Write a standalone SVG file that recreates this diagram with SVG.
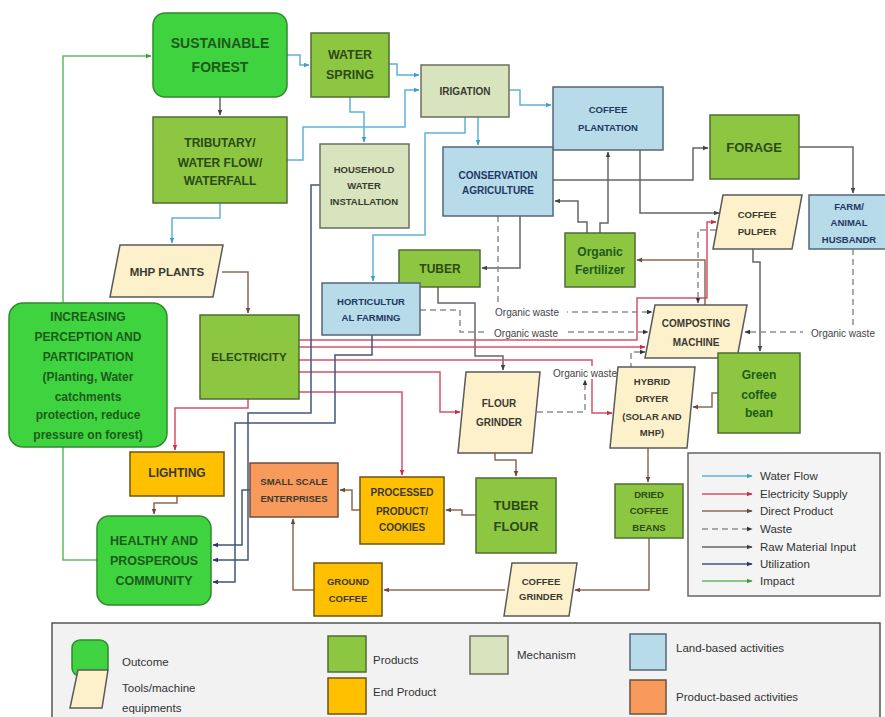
<svg xmlns="http://www.w3.org/2000/svg" width="885" height="717" viewBox="0 0 885 717">
<style>
text{font-family:"Liberation Sans",Arial,sans-serif;}
.t{text-anchor:middle;font-weight:bold;}
.out{fill:#3fd43f;stroke:#2e8b2e;stroke-width:1.5;}
.prd{fill:#8dc641;stroke:#4f6e33;stroke-width:1.5;}
.mec{fill:#d8e4bd;stroke:#6d6d60;stroke-width:1.5;}
.lnd{fill:#b7dbe8;stroke:#56677a;stroke-width:1.5;}
.tool{fill:#fdf1cc;stroke:#5a5a5a;stroke-width:1.5;}
.end{fill:#ffc000;stroke:#6e5410;stroke-width:1.5;}
.pba{fill:#f79a5c;stroke:#6e5040;stroke-width:1.5;}
.tg{fill:#1d5a1d;}
.tp{fill:#2c4a16;}
.td{fill:#3a3a30;}
.tb{fill:#1f3864;}
.c{fill:none;stroke-width:1.5;}
.w{stroke:#5fb3d6;marker-end:url(#mW);}
.e{stroke:#d9506a;marker-end:url(#mE);}
.d{stroke:#8d6a55;marker-end:url(#mD);}
.r{stroke:#666;marker-end:url(#mR);}
.u{stroke:#44557a;marker-end:url(#mU);}
.i{stroke:#63b865;marker-end:url(#mI);}
.x{stroke:#8e8e8e;stroke-dasharray:6 4;marker-end:url(#mX);}
.lbl{font-size:10px;fill:#444;text-anchor:middle;}
.lg{font-size:11.5px;fill:#333;}
</style>
<defs>
<marker id="mW" viewBox="0 0 10 10" refX="9" refY="5" markerWidth="6" markerHeight="6" markerUnits="userSpaceOnUse" orient="auto"><path d="M0,1L10,5L0,9z" fill="#3f9fc6"/></marker>
<marker id="mE" viewBox="0 0 10 10" refX="9" refY="5" markerWidth="6" markerHeight="6" markerUnits="userSpaceOnUse" orient="auto"><path d="M0,1L10,5L0,9z" fill="#c8304a"/></marker>
<marker id="mD" viewBox="0 0 10 10" refX="9" refY="5" markerWidth="6" markerHeight="6" markerUnits="userSpaceOnUse" orient="auto"><path d="M0,1L10,5L0,9z" fill="#6d4a35"/></marker>
<marker id="mR" viewBox="0 0 10 10" refX="9" refY="5" markerWidth="6" markerHeight="6" markerUnits="userSpaceOnUse" orient="auto"><path d="M0,1L10,5L0,9z" fill="#444"/></marker>
<marker id="mU" viewBox="0 0 10 10" refX="9" refY="5" markerWidth="6" markerHeight="6" markerUnits="userSpaceOnUse" orient="auto"><path d="M0,1L10,5L0,9z" fill="#2a3a60"/></marker>
<marker id="mI" viewBox="0 0 10 10" refX="9" refY="5" markerWidth="6" markerHeight="6" markerUnits="userSpaceOnUse" orient="auto"><path d="M0,1L10,5L0,9z" fill="#3f9a42"/></marker>
<marker id="mX" viewBox="0 0 10 10" refX="9" refY="5" markerWidth="6" markerHeight="6" markerUnits="userSpaceOnUse" orient="auto"><path d="M0,1L10,5L0,9z" fill="#333"/></marker>
</defs>
<rect x="0" y="0" width="885" height="717" fill="#ffffff"/>

<g id="connectors">
<!-- impact -->
<polyline class="c i" points="97,560 63,560 63,56 151,56"/>
<!-- water -->
<polyline class="c w" points="287,55 300,55 300,65 309,65"/>
<polyline class="c w" points="389,64 397,64 397,75 419,75"/>
<polyline class="c w" points="287,160 303,160 303,127 405,127 405,90 419,90"/>
<polyline class="c w" points="350,97 350,112 364,112 364,142"/>
<polyline class="c w" points="220,203 220,218 172,218 172,243"/>
<polyline class="c w" points="478,117 478,145"/>
<polyline class="c w" points="509,90 520,90 520,105 551,105"/>
<polyline class="c w" points="465,117 465,133 425,133 425,235 373,235 373,281"/>
<!-- raw -->
<polyline class="c r" points="220,97 220,115"/>
<polyline class="c r" points="520,216 520,268 482,268"/>
<polyline class="c r" points="438,287 438,303 475,303 475,356 503,356 503,370"/>
<polyline class="c r" points="640,150 640,213 719,213"/>
<polyline class="c r" points="553,180 693,180 693,148 708,148"/>
<polyline class="c r" points="799,147 853,147 853,193"/>
<polyline class="c r" points="600,233 600,223 608,223 608,152"/>
<polyline class="c r" points="587,233 587,222 578,222 578,201 555,201"/>
<polyline class="c r" points="753,249 753,262 760,262 760,351"/>
<!-- electricity -->
<polyline class="c e" points="299,340 637,340 637,298 707,298 707,222 716,222"/>
<polyline class="c e" points="299,347 645,347"/>
<polyline class="c e" points="299,360 592,360 592,413 612,413"/>
<polyline class="c e" points="299,372 440,372 440,412 460,412"/>
<polyline class="c e" points="299,392 402,392 402,475"/>
<polyline class="c e" points="248,399 248,408 175,408 175,450"/>
<!-- direct product -->
<polyline class="c d" points="222,272 248,272 248,313"/>
<polyline class="c d" points="495,453 495,460 516,460 516,476"/>
<polyline class="c d" points="648,448 648,482"/>
<polyline class="c d" points="476,515 462,515 462,510 446,510"/>
<polyline class="c d" points="505,590 384,590"/>
<polyline class="c d" points="649,538 649,590 575,590"/>
<polyline class="c d" points="360,510 352,510 352,490 340,490"/>
<polyline class="c d" points="314,590 293,590 293,519"/>
<polyline class="c d" points="705,305 705,260 637,260"/>
<polyline class="c d" points="718,393 712,393 712,407 693,407"/>
<polyline class="c d" points="177,496 177,503 154,503 154,514"/>
<!-- utilization -->
<polyline class="c u" points="250,490 242,490 242,545 213,545"/>
<polyline class="c u" points="320,185 311,185 311,413 248,413 248,560 213,560"/>
<polyline class="c u" points="372,335 372,355 335,355 335,423 235,423 235,582 213,582"/>
<!-- waste -->
<polyline class="c x" points="420,310 460,310 460,332 648,332"/>
<polyline class="c x" points="498,216 498,312 652,312"/>
<polyline class="c x" points="537,412 585,412 585,380"/>
<polyline class="c x" points="624,372 631,372 631,352 645,352"/>
<polyline class="c x" points="716,230 698,230 698,303"/>
<polyline class="c x" points="853,249 853,332 745,332"/>
<rect x="487" y="305" width="80" height="13" fill="#fff"/>
<text class="lbl" x="527" y="316">Organic waste</text>
<rect x="486" y="326" width="80" height="13" fill="#fff"/>
<text class="lbl" x="526" y="337">Organic waste</text>
<rect x="547" y="366" width="77" height="13" fill="#fff"/>
<text class="lbl" x="585" y="377">Organic waste</text>
<rect x="803" y="326" width="82" height="13" fill="#fff"/>
<text class="lbl" x="843" y="337">Organic waste</text>
</g>

<g id="sustainable-forest"><rect class="out" x="153" y="13" width="134" height="84" rx="12"/><text class="t tg" font-size="14"><tspan x="220" y="48">SUSTAINABLE</tspan><tspan x="220" y="72">FOREST</tspan></text></g>
<g id="water-spring"><rect class="prd" x="311" y="33" width="78" height="64"/><text class="t tp" font-size="12.5"><tspan x="350" y="59">WATER</tspan><tspan x="350" y="79">SPRING</tspan></text></g>
<g id="irigation"><rect class="mec" x="421" y="65" width="88" height="52"/><text class="t td" font-size="10" x="465" y="95">IRIGATION</text></g>
<g id="coffee-plantation"><rect class="lnd" x="553" y="87" width="110" height="63"/><text class="t tb" font-size="9.5"><tspan x="608" y="113">COFFEE</tspan><tspan x="608" y="131">PLANTATION</tspan></text></g>
<g id="forage"><rect class="prd" x="710" y="115" width="89" height="64"/><text class="t tp" font-size="13" x="754" y="152">FORAGE</text></g>
<g id="tributary"><rect class="prd" x="153" y="117" width="134" height="86"/><text class="t tp" font-size="12"><tspan x="220" y="147">TRIBUTARY/</tspan><tspan x="220" y="167">WATER FLOW/</tspan><tspan x="220" y="185">WATERFALL</tspan></text></g>
<g id="household"><rect class="mec" x="320" y="144" width="89" height="84"/><text class="t td" font-size="9.5"><tspan x="364" y="173">HOUSEHOLD</tspan><tspan x="364" y="189">WATER</tspan><tspan x="364" y="205">INSTALLATION</tspan></text></g>
<g id="conservation"><rect class="lnd" x="443" y="147" width="110" height="69"/><text class="t tb" font-size="10"><tspan x="498" y="179">CONSERVATION</tspan><tspan x="498" y="194">AGRICULTURE</tspan></text></g>
<g id="coffee-pulper"><polygon class="tool" points="723,195 802,195 792,249 713,249"/><text class="t td" font-size="9.5"><tspan x="757" y="218">COFFEE</tspan><tspan x="757" y="235">PULPER</tspan></text></g>
<g id="farm"><rect class="lnd" x="809" y="195" width="84" height="54"/><text class="t tb" font-size="9.5"><tspan x="849" y="210">FARM/</tspan><tspan x="849" y="226">ANIMAL</tspan><tspan x="849" y="243">HUSBANDR</tspan></text></g>
<g id="organic-fertilizer"><rect class="prd" x="565" y="233" width="70" height="54"/><text class="t tg" font-size="12"><tspan x="600" y="256">Organic</tspan><tspan x="600" y="274">Fertilizer</tspan></text></g>
<g id="mhp-plants"><polygon class="tool" points="120,245 223,245 213,297 110,297"/><text class="t td" font-size="11.5" x="167" y="276">MHP PLANTS</text></g>
<g id="tuber"><rect class="prd" x="399" y="250" width="81" height="37"/><text class="t tp" font-size="12" x="440" y="273">TUBER</text></g>
<g id="horticultural"><rect class="lnd" x="322" y="283" width="98" height="52"/><text class="t tb" font-size="9.5"><tspan x="371" y="305">HORTICULTUR</tspan><tspan x="371" y="321">AL FARMING</tspan></text></g>
<g id="increasing"><rect class="out" x="9" y="303" width="158" height="144" rx="14"/><text class="t tg" font-size="12"><tspan x="88" y="321">INCREASING</tspan><tspan x="88" y="341">PERCEPTION AND</tspan><tspan x="88" y="361">PARTICIPATION</tspan><tspan x="88" y="381">(Planting, Water</tspan><tspan x="88" y="401">catchments</tspan><tspan x="88" y="419">protection, reduce</tspan><tspan x="88" y="439">pressure on forest)</tspan></text></g>
<g id="electricity"><rect class="prd" x="200" y="315" width="99" height="84"/><text class="t tp" font-size="11.5" x="249" y="361">ELECTRICITY</text></g>
<g id="composting"><polygon class="tool" points="655,305 747,305 737,358 645,358"/><text class="t td" font-size="10"><tspan x="696" y="327">COMPOSTING</tspan><tspan x="696" y="346">MACHINE</tspan></text></g>
<g id="green-coffee-bean"><rect class="prd" x="718" y="353" width="82" height="80"/><text class="t tg" font-size="12"><tspan x="759" y="379">Green</tspan><tspan x="759" y="399">coffee</tspan><tspan x="759" y="417">bean</tspan></text></g>
<g id="flour-grinder"><polygon class="tool" points="466,372 540,372 532,453 458,453"/><text class="t td" font-size="10"><tspan x="499" y="407">FLOUR</tspan><tspan x="499" y="426">GRINDER</tspan></text></g>
<g id="hybrid-dryer"><polygon class="tool" points="618,367 695,367 687,448 610,448"/><text class="t td" font-size="9.5"><tspan x="652" y="385">HYBRID</tspan><tspan x="652" y="402">DRYER</tspan><tspan x="652" y="420">(SOLAR AND</tspan><tspan x="652" y="436">MHP)</tspan></text></g>
<g id="lighting"><rect class="end" x="130" y="452" width="94" height="44"/><text class="t td" font-size="12" x="177" y="477">LIGHTING</text></g>
<g id="small-scale"><rect class="pba" x="250" y="463" width="88" height="54"/><text class="t td" font-size="9.5"><tspan x="294" y="485">SMALL SCALE</tspan><tspan x="294" y="502">ENTERPRISES</tspan></text></g>
<g id="processed"><rect class="end" x="360" y="477" width="84" height="67"/><text class="t td" font-size="10"><tspan x="402" y="496">PROCESSED</tspan><tspan x="402" y="515">PRODUCT/</tspan><tspan x="402" y="531">COOKIES</tspan></text></g>
<g id="tuber-flour"><rect class="prd" x="476" y="478" width="80" height="75"/><text class="t tp" font-size="13" font-weight="normal"><tspan x="516" y="510">TUBER</tspan><tspan x="516" y="531">FLOUR</tspan></text></g>
<g id="dried-coffee"><rect class="prd" x="615" y="484" width="68" height="54"/><text class="t tp" font-size="9.5"><tspan x="649" y="498">DRIED</tspan><tspan x="649" y="514">COFFEE</tspan><tspan x="649" y="531">BEANS</tspan></text></g>
<g id="healthy"><rect class="out" x="97" y="516" width="114" height="89" rx="12"/><text class="t tg" font-size="12.5"><tspan x="154" y="545">HEALTHY AND</tspan><tspan x="154" y="565">PROSPEROUS</tspan><tspan x="154" y="585">COMMUNITY</tspan></text></g>
<g id="ground-coffee"><rect class="end" x="314" y="563" width="68" height="53"/><text class="t td" font-size="9.5"><tspan x="348" y="585">GROUND</tspan><tspan x="348" y="602">COFFEE</tspan></text></g>
<g id="coffee-grinder"><polygon class="tool" points="512,563 577,563 569,616 504,616"/><text class="t td" font-size="9.5"><tspan x="541" y="585">COFFEE</tspan><tspan x="541" y="600">GRINDER</tspan></text></g>

<g id="line-legend">
<rect x="688" y="453" width="192" height="143" fill="#f4f4f4" stroke="#666" stroke-width="1.5"/>
<line class="c w" x1="702" y1="476" x2="752" y2="476"/><text class="lg" x="760" y="480">Water Flow</text>
<line class="c e" x1="702" y1="494" x2="752" y2="494"/><text class="lg" x="760" y="498">Electricity Supply</text>
<line class="c d" x1="702" y1="511" x2="752" y2="511"/><text class="lg" x="760" y="515">Direct Product</text>
<line class="c x" x1="702" y1="529" x2="752" y2="529"/><text class="lg" x="760" y="533">Waste</text>
<line class="c r" x1="702" y1="547" x2="752" y2="547"/><text class="lg" x="760" y="551">Raw Material Input</text>
<line class="c u" x1="702" y1="564" x2="752" y2="564"/><text class="lg" x="760" y="568">Utilization</text>
<line class="c i" x1="702" y1="581" x2="752" y2="581"/><text class="lg" x="760" y="585">Impact</text>
</g>

<g id="node-legend">
<rect x="52" y="623" width="828" height="100" fill="#f2f2f2" stroke="#555" stroke-width="1.5"/>
<rect class="out" x="72" y="640" width="36" height="36" rx="8"/><text class="lg" x="122" y="666" font-size="12">Outcome</text>
<polygon class="tool" points="78,670 108,670 102,708 70,708"/><text class="lg" font-size="12"><tspan x="122" y="692">Tools/machine</tspan><tspan x="122" y="712">equipments</tspan></text>
<rect class="prd" x="328" y="636" width="38" height="36"/><text class="lg" x="373" y="664" font-size="12">Products</text>
<rect class="end" x="328" y="678" width="38" height="36"/><text class="lg" x="373" y="696" font-size="12">End Product</text>
<rect class="mec" x="470" y="636" width="38" height="38"/><text class="lg" x="517" y="659" font-size="12">Mechanism</text>
<rect class="lnd" x="630" y="634" width="36" height="36"/><text class="lg" x="676" y="652" font-size="12">Land-based activities</text>
<rect class="pba" x="630" y="680" width="36" height="34"/><text class="lg" x="676" y="701" font-size="12">Product-based activities</text>
</g>
</svg>
